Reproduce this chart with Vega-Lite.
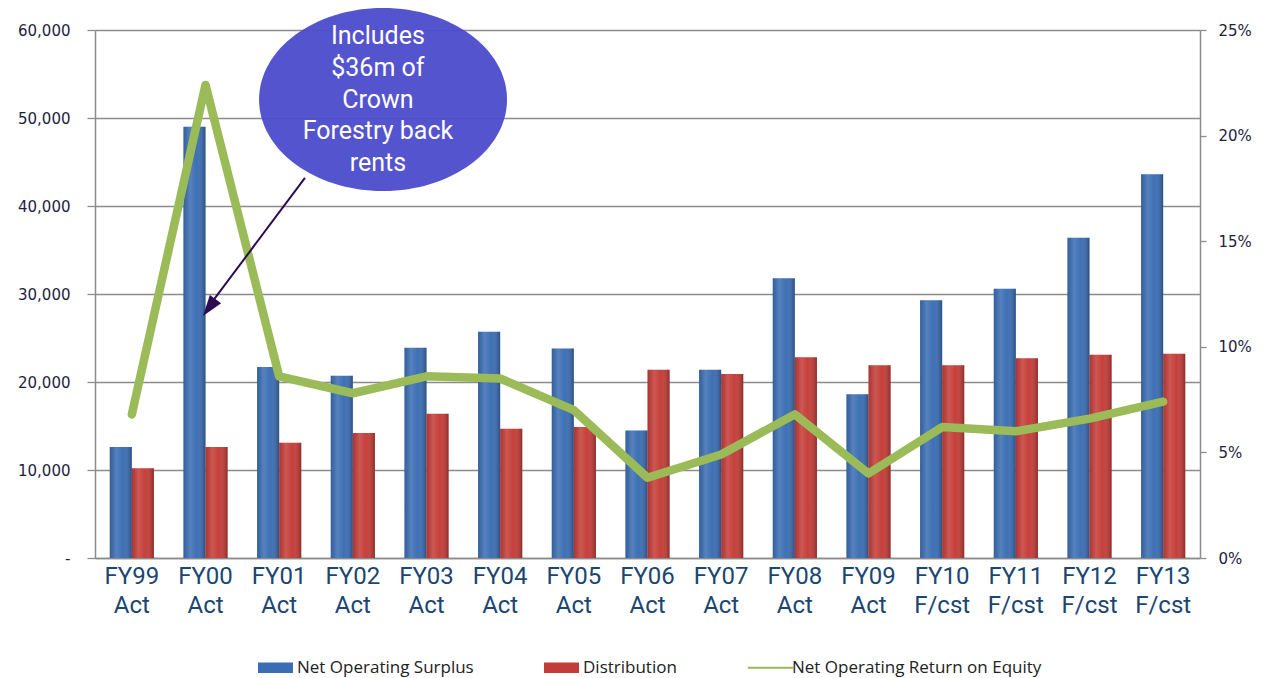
{
  "$schema": "https://vega.github.io/schema/vega-lite/v6.json",
  "width": 1105,
  "height": 528,
  "autosize": "none",
  "padding": {"left": 95, "top": 30, "right": 64, "bottom": 120},
  "background": "white",
  "config": {"view": {"stroke": null}},
  "data": {
    "values": [
      {"cat": "FY99 Act", "Net Operating Surplus": 12600, "Distribution": 10200, "roe": 0.068},
      {"cat": "FY00 Act", "Net Operating Surplus": 49000, "Distribution": 12600, "roe": 0.224},
      {"cat": "FY01 Act", "Net Operating Surplus": 21700, "Distribution": 13100, "roe": 0.086},
      {"cat": "FY02 Act", "Net Operating Surplus": 20700, "Distribution": 14200, "roe": 0.078},
      {"cat": "FY03 Act", "Net Operating Surplus": 23900, "Distribution": 16400, "roe": 0.086},
      {"cat": "FY04 Act", "Net Operating Surplus": 25700, "Distribution": 14700, "roe": 0.085},
      {"cat": "FY05 Act", "Net Operating Surplus": 23800, "Distribution": 14900, "roe": 0.070},
      {"cat": "FY06 Act", "Net Operating Surplus": 14500, "Distribution": 21400, "roe": 0.038},
      {"cat": "FY07 Act", "Net Operating Surplus": 21400, "Distribution": 20900, "roe": 0.049},
      {"cat": "FY08 Act", "Net Operating Surplus": 31800, "Distribution": 22800, "roe": 0.068},
      {"cat": "FY09 Act", "Net Operating Surplus": 18600, "Distribution": 21900, "roe": 0.040},
      {"cat": "FY10 F/cst", "Net Operating Surplus": 29300, "Distribution": 21900, "roe": 0.062},
      {"cat": "FY11 F/cst", "Net Operating Surplus": 30600, "Distribution": 22700, "roe": 0.060},
      {"cat": "FY12 F/cst", "Net Operating Surplus": 36400, "Distribution": 23100, "roe": 0.066},
      {"cat": "FY13 F/cst", "Net Operating Surplus": 43600, "Distribution": 23200, "roe": 0.074}
    ]
  },
  "layer": [
    {
      "transform": [{"fold": ["Net Operating Surplus", "Distribution"], "as": ["series", "value"]}],
      "mark": {"type": "bar"},
      "encoding": {
        "x": {
          "field": "cat", "type": "nominal", "sort": null,
          "scale": {"paddingInner": 0.4, "paddingOuter": 0.2},
          "axis": {
            "title": null, "labelExpr": "split(datum.label, ' ')", "labelAngle": 0,
            "labelFontSize": 24, "labelLineHeight": 29, "labelColor": "#1B4672",
            "labelFont": "Roboto", "ticks": false,
            "domainColor": "#8C8C8C", "domainWidth": 1.5, "labelPadding": 6, "labelBaseline": "top"
          }
        },
        "xOffset": {"field": "series", "type": "nominal", "sort": ["Net Operating Surplus", "Distribution"], "scale": {"paddingInner": 0, "paddingOuter": 0}},
        "y": {
          "field": "value", "type": "quantitative",
          "scale": {"domain": [0, 60000]},
          "axis": {
            "title": null, "values": [0, 10000, 20000, 30000, 40000, 50000, 60000],
            "labelExpr": "datum.value == 0 ? '-' : format(datum.value, ',')",
            "grid": true, "gridColor": "#8C8C8C", "gridWidth": 1.3,
            "domainColor": "#8C8C8C", "domainWidth": 1.5,
            "tickColor": "#8C8C8C", "tickSize": 8, "tickWidth": 1.3,
            "labelFont": "DejaVu Sans", "labelFontSize": 15, "labelColor": "#1E1E3C", "labelPadding": 17
          }
        },
        "color": {
          "field": "series", "type": "nominal",
          "scale": {
            "domain": ["Net Operating Surplus", "Distribution", "Net Operating Return on Equity"],
            "range": ["#3A6DB3", "#C43C37", "#9BBB59"]
          },
          "legend": {
            "title": null, "orient": "none", "legendX": 163, "legendY": 620, "direction": "horizontal",
            "labelFont": "Open Sans", "labelFontSize": 17, "labelColor": "#222222", "labelLimit": 0,
            "symbolSize": 1225, "columnPadding": 70, "symbolOpacity": 1,
            "encode": {
              "symbols": {
                "update": {
                  "shape": {"signal": "datum.value === 'Net Operating Return on Equity' ? 'M -1.3 -0.06 L 1.3 -0.06 L 1.3 0.06 L -1.3 0.06 Z' : 'M -1 -0.3 L 1 -0.3 L 1 0.3 L -1 0.3 Z'"},
                  "strokeWidth": {"value": 0}
                }
              }
            }
          }
        }
      }
    },
    {
      "transform": [{"fold": ["Net Operating Surplus", "Distribution"], "as": ["series", "value"]}],
      "mark": {
        "type": "bar",
        "fill": {
          "gradient": "linear", "x1": 0, "y1": 0, "x2": 1, "y2": 0,
          "stops": [
            {"offset": 0, "color": "rgba(0,0,0,0.12)"},
            {"offset": 0.3, "color": "rgba(255,255,255,0.14)"},
            {"offset": 0.6, "color": "rgba(255,255,255,0.02)"},
            {"offset": 1, "color": "rgba(0,0,0,0.28)"}
          ]
        }
      },
      "encoding": {
        "x": {"field": "cat", "type": "nominal", "sort": null, "scale": {"paddingInner": 0.4, "paddingOuter": 0.2}, "axis": null},
        "xOffset": {"field": "series", "type": "nominal", "sort": ["Net Operating Surplus", "Distribution"], "scale": {"paddingInner": 0, "paddingOuter": 0}},
        "y": {"field": "value", "type": "quantitative", "scale": {"domain": [0, 60000]}, "axis": null}
      }
    },
    {
      "mark": {"type": "line", "color": "#9BBB59", "strokeWidth": 8.5, "strokeCap": "round", "strokeJoin": "round"},
      "encoding": {
        "x": {"field": "cat", "type": "nominal", "sort": null, "scale": {"type": "point", "padding": 0.5}, "axis": null},
        "y": {
          "field": "roe", "type": "quantitative",
          "scale": {"domain": [0, 0.25]},
          "axis": {
            "orient": "right", "title": null, "format": ".0%",
            "values": [0, 0.05, 0.1, 0.15, 0.2, 0.25], "grid": false,
            "domainColor": "#8C8C8C", "domainWidth": 1.5,
            "tickColor": "#8C8C8C", "tickSize": 6, "tickWidth": 1.3,
            "labelFont": "DejaVu Sans", "labelFontSize": 15, "labelColor": "#1E1E3C", "labelPadding": 12
          }
        }
      }
    },
    {
      "data": {"values": [{"ax": 3.91, "ay": 52100}]},
      "mark": {
        "type": "point", "filled": true, "color": "#4B4BCC", "opacity": 0.95, "strokeWidth": 0,
        "shape": "M 1.355 0 C 1.355 0.5523 0.7484 1 0 1 C -0.7484 1 -1.355 0.5523 -1.355 0 C -1.355 -0.5523 -0.7484 -1 0 -1 C 0.7484 -1 1.355 -0.5523 1.355 0 Z",
        "size": 33489
      },
      "encoding": {
        "x": {"field": "ax", "type": "quantitative", "scale": {"domain": [0, 15]}, "axis": null},
        "y": {"field": "ay", "type": "quantitative", "scale": {"domain": [0, 60000]}, "axis": null}
      }
    },
    {
      "data": {"values": [{"ax": 3.84, "ay": 59320, "label": "Includes\n$36m of\nCrown\nForestry back\nrents"}]},
      "mark": {"type": "text", "color": "white", "font": "Roboto", "fontSize": 25, "lineHeight": 31.8, "lineBreak": "\n", "align": "center", "baseline": "middle"},
      "encoding": {
        "x": {"field": "ax", "type": "quantitative", "scale": {"domain": [0, 15]}, "axis": null},
        "y": {"field": "ay", "type": "quantitative", "scale": {"domain": [0, 60000]}, "axis": null},
        "text": {"field": "label"}
      }
    },
    {
      "data": {"values": [{"ax": 2.85, "ay": 43200, "ax2": 1.59, "ay2": 29100}]},
      "mark": {"type": "rule", "color": "#2E0A52", "strokeWidth": 2},
      "encoding": {
        "x": {"field": "ax", "type": "quantitative", "scale": {"domain": [0, 15]}, "axis": null},
        "y": {"field": "ay", "type": "quantitative", "scale": {"domain": [0, 60000]}, "axis": null},
        "x2": {"field": "ax2"},
        "y2": {"field": "ay2"}
      }
    },
    {
      "data": {"values": [{"ax": 1.466, "ay": 27500}]},
      "mark": {
        "type": "point", "filled": true, "color": "#2E0A52", "strokeWidth": 0, "opacity": 1,
        "shape": "M 0 0 L -0.7 2.1 L 0.7 2.1 Z", "size": 400, "angle": 216.5
      },
      "encoding": {
        "x": {"field": "ax", "type": "quantitative", "scale": {"domain": [0, 15]}, "axis": null},
        "y": {"field": "ay", "type": "quantitative", "scale": {"domain": [0, 60000]}, "axis": null}
      }
    }
  ],
  "resolve": {"scale": {"x": "independent", "y": "independent"}}
}
